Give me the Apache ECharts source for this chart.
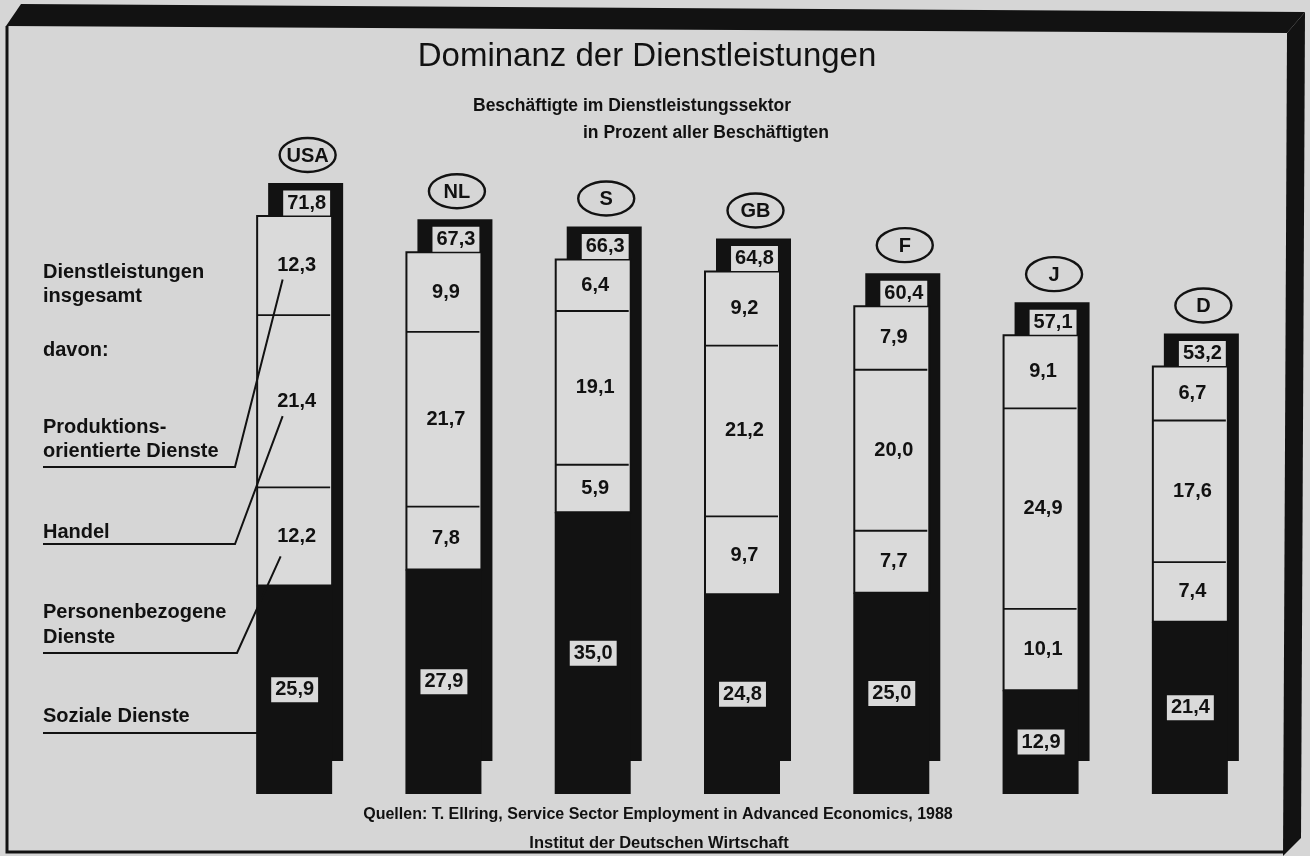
<!DOCTYPE html>
<html><head><meta charset="utf-8">
<script src="https://cdn.jsdelivr.net/npm/echarts@6/dist/echarts.min.js"></script>
<style>html,body{margin:0;padding:0;background:#d6d6d6}#c{width:1310px;height:856px}</style>
</head><body><div id="c"></div>
<script>
// ---- data ----
const countries = ['USA', 'NL', 'S', 'GB', 'F', 'J', 'D'];
const totals = [71.8, 67.3, 66.3, 64.8, 60.4, 57.1, 53.2];
const soziale = [25.9, 27.9, 35.0, 24.8, 25.0, 12.9, 21.4];
const personen = [12.2, 7.8, 5.9, 9.7, 7.7, 10.1, 7.4];
const handel = [21.4, 21.7, 19.1, 21.2, 20.0, 24.9, 17.6];
const produktion = [12.3, 9.9, 6.4, 9.2, 7.9, 9.1, 6.7];

// ---- style ----
const DARK = '#121212', LIGHT = '#dadada', BG = '#d6d6d6';
const BAR_W = 75, SH_DX = 11, SH_DY = 33;
const FONT = "'Liberation Sans', Arial, sans-serif";
const fmt = v => v.toFixed(1).replace('.', ',');

const data = countries.map((c, i) => [i, soziale[i], personen[i], handel[i], produktion[i], totals[i]]);

function renderItem(params, api) {
  const i = api.value(0);
  const vals = [api.value(1), api.value(2), api.value(3), api.value(4)];
  const total = api.value(5);
  const cum = [0];
  vals.forEach((v, k) => cum.push(cum[k] + v));
  const ys = cum.map(v => api.coord([i, v])[1]);
  const cx = api.coord([i, 0])[0];
  const left = cx - BAR_W / 2, right = cx + BAR_W / 2;
  const top = ys[4], bottom = ys[0];
  const scx = cx + SH_DX;
  const ch = [];
  // shadow block (visible as right strip and top cap)
  ch.push({ type: 'rect', shape: { x: left + SH_DX, y: top - SH_DY, width: BAR_W, height: bottom - top }, style: { fill: DARK } });
  // light segments
  ch.push({ type: 'rect', shape: { x: left, y: top, width: BAR_W, height: ys[1] - top }, style: { fill: LIGHT, stroke: DARK, lineWidth: 2 } });
  // dark bottom segment
  ch.push({ type: 'rect', shape: { x: left - 1, y: ys[1], width: BAR_W + 1, height: bottom - ys[1] }, style: { fill: DARK } });
  [2, 3].forEach(k => ch.push({ type: 'line', shape: { x1: left, y1: ys[k], x2: right - 2, y2: ys[k] }, style: { stroke: DARK, lineWidth: 1.8 } }));
  const mids = [];
  for (let k = 0; k < 4; k++) mids.push((ys[k] + ys[k + 1]) / 2);
  for (let k = 1; k < 4; k++) {
    ch.push({ type: 'text', style: { text: fmt(vals[k]), x: cx + 2, y: mids[k], align: 'center', verticalAlign: 'middle', font: `bold 20px ${FONT}`, fill: '#111' } });
  }
  ch.push({ type: 'text', style: { text: fmt(vals[0]), x: cx, y: mids[0], align: 'center', verticalAlign: 'middle', font: `bold 20px ${FONT}`, fill: '#111', backgroundColor: LIGHT, padding: [3, 4, 2, 4] } });
  // total label in cap
  ch.push({ type: 'text', style: { text: fmt(total), x: scx + 1, y: top - 13, align: 'center', verticalAlign: 'middle', font: `bold 20px ${FONT}`, fill: '#111', backgroundColor: LIGHT, padding: [3, 4, 2, 4] } });
  // country ellipse
  const ey = top - SH_DY - 28;
  ch.push({ type: 'ellipse', shape: { cx: scx + 2, cy: ey, rx: 28, ry: 17 }, style: { fill: 'none', stroke: DARK, lineWidth: 2.4 } });
  ch.push({ type: 'text', style: { text: countries[i], x: scx + 2, y: ey + 1, align: 'center', verticalAlign: 'middle', font: `bold 20px ${FONT}`, fill: '#111' } });
  // leader lines from the left-hand legend to the first bar
  if (i === 0) {
    const ln = pts => ({ type: 'polyline', shape: { points: pts }, style: { stroke: DARK, lineWidth: 2, fill: 'none' } });
    ch.push(ln([[43, 467], [235, 467], [cx - 12, mids[3] + 14]]));
    ch.push(ln([[43, 544], [235, 544], [cx - 12, mids[2] + 15]]));
    ch.push(ln([[43, 653], [237, 653], [cx - 14, mids[1] + 20]]));
    ch.push(ln([[43, 733], [left, 733]]));
  }
  return { type: 'group', children: ch };
}

const legendTexts = [
  ['Dienstleistungen', 272], ['insgesamt', 296], ['davon:', 350],
  ['Produktions-', 427], ['orientierte Dienste', 451], ['Handel', 532],
  ['Personenbezogene', 612], ['Dienste', 637], ['Soziale Dienste', 716]
];

const graphics = [
  // 3D frame
  { type: 'polygon', shape: { points: [[6, 26], [21, 4], [1305, 12], [1287, 33]] }, style: { fill: DARK } },
  { type: 'polygon', shape: { points: [[1287, 33], [1305, 12], [1301, 838], [1283, 856]] }, style: { fill: DARK } },
  { type: 'polyline', shape: { points: [[7, 26], [7, 852], [1284, 852]] }, style: { stroke: DARK, lineWidth: 3, fill: 'none' } },
  // titles
  { type: 'text', style: { text: 'Dominanz der Dienstleistungen', x: 647, y: 57, align: 'center', verticalAlign: 'middle', font: `33px ${FONT}`, fill: '#111' } },
  { type: 'text', style: { text: 'Beschäftigte im Dienstleistungssektor', x: 632, y: 106, align: 'center', verticalAlign: 'middle', font: `bold 17.5px ${FONT}`, fill: '#111' } },
  { type: 'text', style: { text: 'in Prozent aller Beschäftigten', x: 706, y: 133, align: 'center', verticalAlign: 'middle', font: `bold 17.5px ${FONT}`, fill: '#111' } },
  // source
  { type: 'text', style: { text: 'Quellen: T. Ellring, Service Sector Employment in Advanced Economics, 1988', x: 658, y: 815, align: 'center', verticalAlign: 'middle', font: `bold 16px ${FONT}`, fill: '#111' } },
  { type: 'text', style: { text: 'Institut der Deutschen Wirtschaft', x: 659, y: 843, align: 'center', verticalAlign: 'middle', font: `bold 16.5px ${FONT}`, fill: '#111' } }
].concat(legendTexts.map(([t, y]) => ({ type: 'text', style: { text: t, x: 43, y: y, align: 'left', verticalAlign: 'middle', font: `bold 20px ${FONT}`, fill: '#111' } })));

const chart = echarts.init(document.getElementById('c'), null, { renderer: 'canvas' });
chart.setOption({
  backgroundColor: BG,
  animation: false,
  grid: { left: 220, right: 45, top: 150, bottom: 62 },
  xAxis: { type: 'category', data: countries, show: false },
  yAxis: { type: 'value', min: 0, max: 80, show: false },
  graphic: graphics,
  series: [{
    type: 'custom',
    renderItem: renderItem,
    data: data,
    clip: false,
    encode: { x: 0, y: 5 }
  }]
});
</script></body></html>
